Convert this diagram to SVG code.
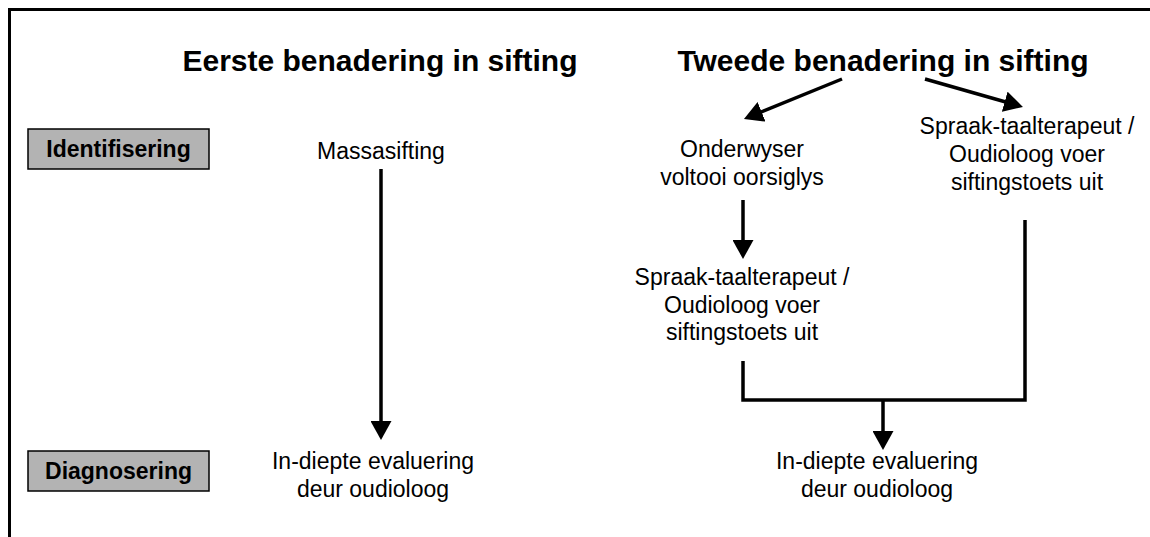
<svg xmlns="http://www.w3.org/2000/svg" width="1150" height="537" viewBox="0 0 1150 537">
<style>
.t{font-family:"Liberation Sans",Arial,sans-serif;font-size:23px;fill:#000;text-anchor:middle}
.title{font-family:"Liberation Sans",Arial,sans-serif;font-size:30px;font-weight:bold;fill:#000;text-anchor:middle}
.lbl{font-family:"Liberation Sans",Arial,sans-serif;font-size:23px;font-weight:bold;fill:#000;text-anchor:middle}
.box{fill:#b3b3b3;stroke:#000;stroke-width:1.5}
.c{fill:none;stroke:#000;stroke-width:3.5;stroke-linecap:butt;stroke-linejoin:miter}
</style>
<defs>
<marker id="ah" markerUnits="userSpaceOnUse" markerWidth="19" markerHeight="21" refX="2" refY="10.5" orient="auto" viewBox="0 0 19 21">
<path d="M0,0 L19,10.5 L0,21 z" fill="#000"/>
</marker>
</defs>
<rect width="1150" height="537" fill="#fff"/>
<g id="frame">
<path d="M9.5,537 V9.5 H1150" fill="none" stroke="#000" stroke-width="3"/>
</g>
<g id="title-eerste"><text class="title" x="380" y="71">Eerste benadering in sifting</text></g>
<g id="title-tweede"><text class="title" x="883" y="71">Tweede benadering in sifting</text></g>
<g id="identifisering">
<rect class="box" x="28" y="129" width="181" height="40"/>
<text class="lbl" x="118.5" y="157">Identifisering</text>
</g>
<g id="diagnosering">
<rect class="box" x="28" y="451" width="181" height="40"/>
<text class="lbl" x="118.5" y="479">Diagnosering</text>
</g>
<g id="massasifting"><text class="t" x="381" y="159">Massasifting</text></g>
<g id="evaluering-1">
<text class="t" x="373" y="469">In-diepte evaluering</text>
<text class="t" x="373" y="497">deur oudioloog</text>
</g>
<g id="onderwyser">
<text class="t" x="742" y="157">Onderwyser</text>
<text class="t" x="742" y="185">voltooi oorsiglys</text>
</g>
<g id="spraak-1">
<text class="t" x="1027" y="134">Spraak-taalterapeut /</text>
<text class="t" x="1027" y="162">Oudioloog voer</text>
<text class="t" x="1027" y="190">siftingstoets uit</text>
</g>
<g id="spraak-2">
<text class="t" x="742" y="285">Spraak-taalterapeut /</text>
<text class="t" x="742" y="313">Oudioloog voer</text>
<text class="t" x="742" y="340">siftingstoets uit</text>
</g>
<g id="evaluering-2">
<text class="t" x="877" y="469">In-diepte evaluering</text>
<text class="t" x="877" y="497">deur oudioloog</text>
</g>
<g id="connectors">
<line class="c" x1="381" y1="169" x2="381" y2="423" marker-end="url(#ah)"/>
<line class="c" x1="842" y1="79" x2="759.7" y2="112.6" marker-end="url(#ah)"/>
<line class="c" x1="925" y1="79" x2="1006.6" y2="102.3" marker-end="url(#ah)"/>
<line class="c" x1="743" y1="200" x2="743" y2="242" marker-end="url(#ah)"/>
<polyline class="c" points="743,361 743,400 1025,400 1025,220"/>
<line class="c" x1="883" y1="400" x2="883" y2="433" marker-end="url(#ah)"/>
</g>
</svg>
